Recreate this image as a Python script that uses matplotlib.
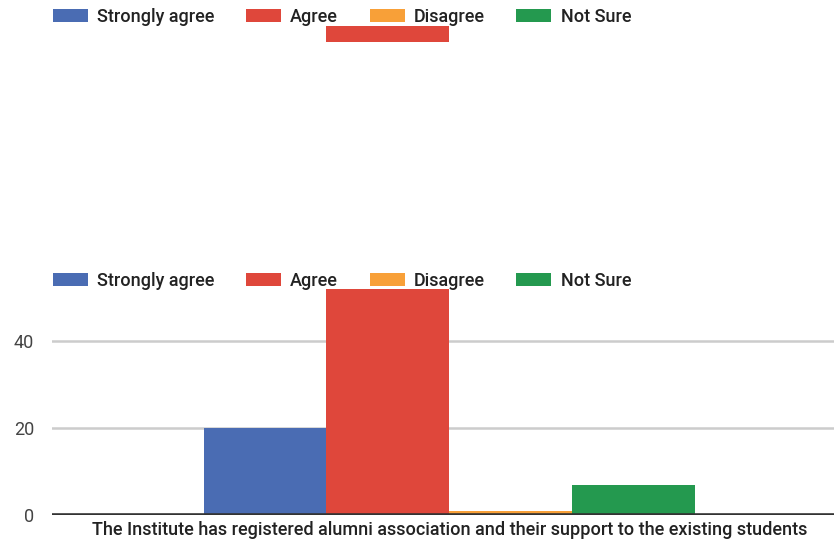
import numpy as np
import matplotlib.pyplot as plt

plt.rcParams['font.family'] = ['Roboto', 'DejaVu Sans']

# data
categories=['The Institute has registered alumni association and their support to the existing students']
series=['Strongly agree','Agree','Disagree','Not Sure']
values=[20,52,1,7]
colors=['#4a6cb3','#df473b','#f8a038','#24994f']
yticks=[0,20,40]

W,H=834,544
fig=plt.figure(figsize=(W/100,H/100),dpi=100)
fs=13

# bottom (full) chart
x0,x1=52,834
ybot,ytop=515,262
ax=fig.add_axes([x0/W,(H-ybot)/H,(x1-x0)/W,(ybot-ytop)/H])
px_per_unit=4.35
bw=0.157
offs=(np.arange(len(series))-1.5)*bw
bars=[]
for i,(s,v) in enumerate(zip(series,values)):
    b=ax.bar(0+offs[i],v,width=bw,color=colors[i],label=s,zorder=3)
    bars.append(b)
ax.set_xlim(-0.508,0.492)
ax.set_ylim(0,(ybot-ytop)/px_per_unit)
ax.set_yticks(yticks)
ax.set_yticklabels([str(t) for t in yticks],fontsize=fs,color='#444444')
ax.tick_params(axis='y',length=0,pad=13)
ax.set_xticks([0])
ax.set_xticklabels(categories,fontsize=fs,color='#222222',fontweight='medium')
ax.tick_params(axis='x',length=0,pad=4)
ax.grid(axis='y',color='#cccccc',linewidth=1.8,zorder=0)
for sp in ax.spines.values():
    sp.set_visible(False)
ax.axhline(0,color='#333333',linewidth=2.6,zorder=4)

# top fragment (clipped copy of the same chart above)
ftop=42
ax2=fig.add_axes([x0/W,(H-ftop)/H,(x1-x0)/W,ftop/H])
for i,(s,v) in enumerate(zip(series,values)):
    ax2.bar(0+offs[i],v,width=bw,color=colors[i],zorder=3)
ax2.set_xlim(-0.508,0.492)
lo=values[1]-(ftop-26)/px_per_unit
ax2.set_ylim(lo,lo+ftop/px_per_unit)
ax2.axis('off')

for yy in [17,281]:
    fig.legend(handles=[b[0] for b in bars],labels=series,loc='center left',
               bbox_to_anchor=(37/W,1-yy/H),ncol=4,frameon=False,
               prop={'size':fs,'weight':'medium'},
               handlelength=1.94,handleheight=0.7,handletextpad=0.5,columnspacing=1.75,
               labelcolor='#222222')

fig.savefig('out.png',dpi=100)
